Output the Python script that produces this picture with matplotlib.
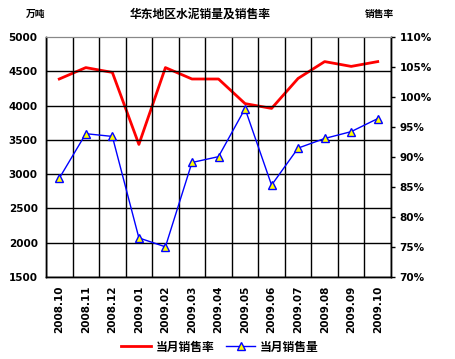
import matplotlib
matplotlib.use("Agg")
import matplotlib.pyplot as plt
from matplotlib.lines import Line2D

plt.rcParams['font.family'] = ['Noto Sans CJK SC', 'DejaVu Sans']
plt.rcParams['font.weight'] = 'bold'

months = ["2008.10", "2008.11", "2008.12", "2009.01", "2009.02", "2009.03", "2009.04",
          "2009.05", "2009.06", "2009.07", "2009.08", "2009.09", "2009.10"]
sales_volume = [2940, 3590, 3550, 2070, 1940, 3170, 3255, 3955, 2840, 3380, 3520, 3620, 3810]
sales_rate = [103.0, 104.9, 104.1, 92.1, 104.9, 103.0, 103.0, 98.9, 98.1, 103.1, 105.9, 105.1, 105.9]

title = "华东地区水泥销量及销售率"
left_unit = "万吨"
right_unit = "销售率"
rate_label = "当月销售率"
volume_label = "当月销售量"

fig = plt.figure(figsize=(4.55, 3.59), dpi=100)
ax = fig.add_axes([46/455, 1-277/359, 345/455, 240/359])
ax2 = ax.twinx()

n = len(months)
x = list(range(n))
ax.set_xlim(-0.5, n - 0.5)
ax.set_ylim(1500, 5000)
ax.set_yticks(range(1500, 5001, 500))
ax2.set_ylim(70, 110)
ax2.set_yticks(range(70, 111, 5))
ax2.set_yticklabels([f"{v}%" for v in range(70, 111, 5)])

# grid
for b in range(n + 1):
    ax.axvline(b - 0.5, color='black', lw=1, zorder=0)
for v in range(1500, 5000, 500):
    ax.axhline(v, color='black', lw=1, zorder=0)

ax.set_xticks(x)
ax.set_xticklabels(months, rotation=90, fontsize=7.5, fontweight='bold', family=['DejaVu Sans'])
ax.tick_params(axis='x', length=0, pad=6)
ax.tick_params(axis='y', length=0, pad=6, labelsize=7.5)
ax2.tick_params(axis='y', length=3, pad=3, labelsize=7.5, width=1)
for lab in ax.get_yticklabels() + ax2.get_yticklabels():
    lab.set_fontweight('bold')
    lab.set_family(['DejaVu Sans'])

for a in (ax, ax2):
    a.spines['top'].set_color('#888888')
    for s in ('left', 'right', 'bottom'):
        a.spines[s].set_color('black')
        a.spines[s].set_linewidth(1)
ax.set_zorder(ax2.get_zorder() + 1)
ax.patch.set_visible(False)

ax.plot(x, sales_volume, color='#0000ff', lw=1, marker='^', markersize=6,
        markerfacecolor='#ffff00', markeredgecolor='#0000ff', markeredgewidth=1, zorder=5)
ax2.plot(x, sales_rate, color='#ff0000', lw=2, zorder=4)

fig.text(200/455, 1-14/359, title, ha='center', va='center', fontsize=8.5, fontweight='bold')
fig.text(36/455, 1-14/359, left_unit, ha='center', va='center', fontsize=7, fontweight='bold')
fig.text(379/455, 1-14/359, right_unit, ha='center', va='center', fontsize=7, fontweight='bold')

handles = [Line2D([], [], color='#ff0000', lw=2),
           Line2D([], [], color='#0000ff', lw=1, marker='^', markersize=6,
                  markerfacecolor='#ffff00', markeredgecolor='#0000ff')]
fig.legend(handles, [rate_label, volume_label], loc='center', bbox_to_anchor=(220/455, 1-347/359),
           ncol=2, frameon=False, fontsize=8.5, handlelength=2.5, handletextpad=0.4,
           columnspacing=1.0, prop={'weight': 'bold', 'size': 8.5})

fig.savefig("out.png", dpi=100)
